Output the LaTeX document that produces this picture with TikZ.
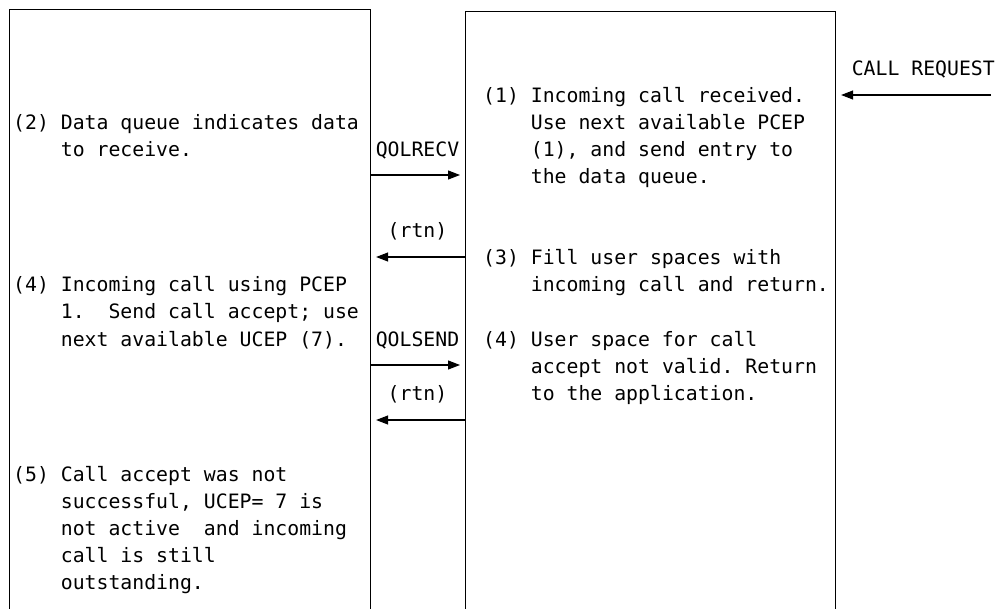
\documentclass[tikz,border=0pt]{standalone}
\usepackage{fontspec}
\newfontfamily\monofam{DejaVu Sans Mono}
\usetikzlibrary{arrows.meta}
\newcommand\mfont{\monofam\fontsize{19.8}{27.05}\selectfont\frenchspacing}
\begin{document}
\begin{tikzpicture}[x=1pt,y=-1pt,
  box/.style={draw, line width=1.1pt, inner sep=0pt, anchor=north west},
  txt/.style={anchor=base west, inner sep=0pt, font=\mfont},
  lbl/.style={anchor=base, inner sep=0pt, font=\mfont},
  arr/.style={line width=1.1pt, -{Triangle[length=12pt,width=9pt]}, shorten >=5pt}]
\useasboundingbox (0,0) rectangle (996,608);
% boxes (bottom edges lie below the picture)
\node[box, minimum width=361pt, minimum height=640pt] (L) at (9,9) {};
\node[box, minimum width=370pt, minimum height=640pt] (R) at (465,11) {};
% right box texts
\node[txt] (t1) at (483,102.5) {\begin{tabular}[t]{@{}l@{\ }l@{}}(1) & Incoming call received.\\ & Use next available PCEP\\ & (1), and send entry to\\ & the data queue.\end{tabular}};
\node[txt] (t3) at (483,264.9) {\begin{tabular}[t]{@{}l@{\ }l@{}}(3) & Fill user spaces with\\ & incoming call and return.\end{tabular}};
\node[txt] (t4r) at (483,346) {\begin{tabular}[t]{@{}l@{\ }l@{}}(4) & User space for call\\ & accept not valid. Return\\ & to the application.\end{tabular}};
% left box texts
\node[txt] (t2) at (13,129.6) {\begin{tabular}[t]{@{}l@{\ }l@{}}(2) & Data queue indicates data\\ & to receive.\end{tabular}};
\node[txt] (t4l) at (13,291.9) {\begin{tabular}[t]{@{}l@{\ }l@{}}(4) & Incoming call using PCEP\\ & 1.\ \ Send call accept; use\\ & next available UCEP (7).\end{tabular}};
\node[txt] (t5) at (13,481.3) {\begin{tabular}[t]{@{}l@{\ }l@{}}(5) & Call accept was not\\ & successful, UCEP= 7 is\\ & not active\ \ and incoming\\ & call is still\\ & outstanding.\end{tabular}};
% labels between boxes
\node[lbl] (lrecv) at (417.5,156.7) {QOLRECV};
\node[lbl] (lrtn1) at (417.5,237.8) {(rtn)};
\node[lbl] (lsend) at (417.5,346) {QOLSEND};
\node[lbl] (lrtn2) at (417.5,400.1) {(rtn)};
\node[anchor=base east, inner sep=0pt, font=\mfont] (lcall) at (995,75.5) {CALL REQUEST};
% connectors
\coordinate (cr) at (991,95);
\draw[arr] (cr) -- (R.east |- cr);
\draw[arr] (L.east |- 0,175) -- (R.west |- 0,175);
\draw[arr] (R.west |- 0,257) -- (L.east |- 0,257);
\draw[arr] (L.east |- 0,365) -- (R.west |- 0,365);
\draw[arr] (R.west |- 0,420) -- (L.east |- 0,420);
\end{tikzpicture}
\end{document}
